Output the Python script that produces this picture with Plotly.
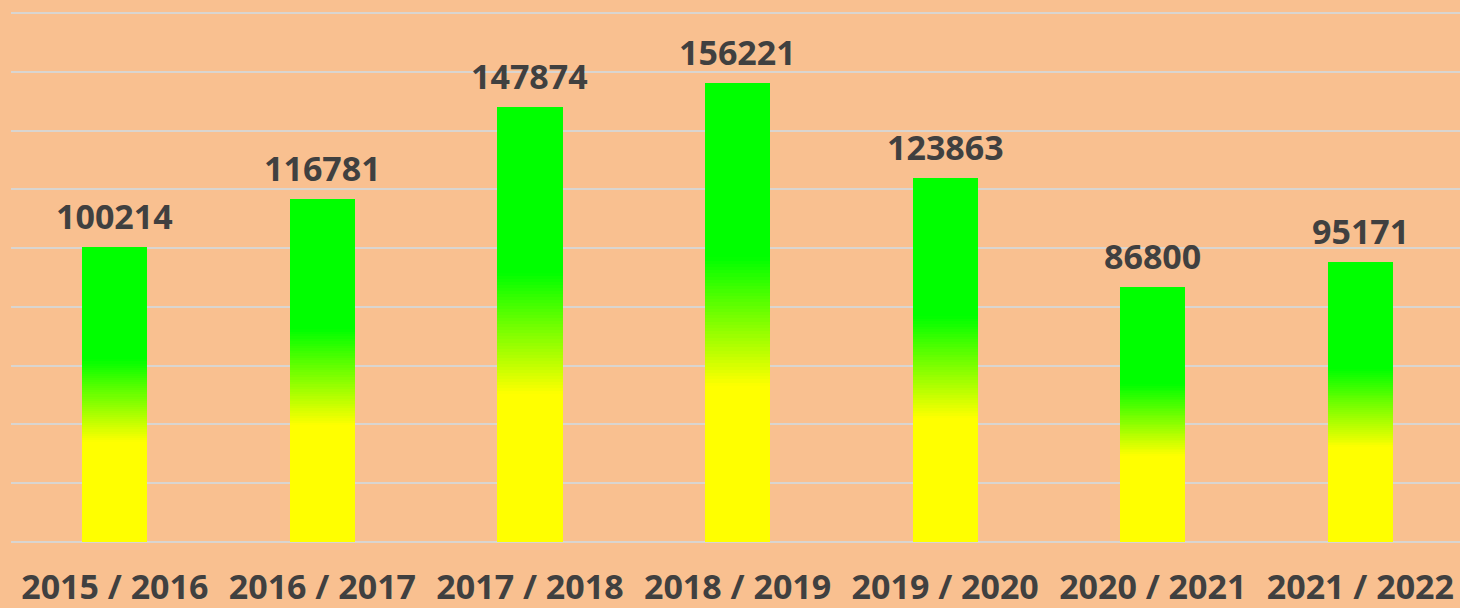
import plotly.graph_objects as go

categories = ["2015 / 2016", "2016 / 2017", "2017 / 2018", "2018 / 2019",
              "2019 / 2020", "2020 / 2021", "2021 / 2022"]
values = [100214, 116781, 147874, 156221, 123863, 86800, 95171]

# gradient (fraction of bar height): yellow up to 0.34, green from 0.62
Y0, Y1 = 0.34, 0.62
NSTEP = 40
bounds = [0.0, Y0] + [Y0 + (Y1 - Y0) * i / NSTEP for i in range(1, NSTEP + 1)] + [1.0]


def color_at(f):
    if f <= Y0:
        t = 0.0
    elif f >= Y1:
        t = 1.0
    else:
        t = (f - Y0) / (Y1 - Y0)
    r = round(255 * (1 - t))
    return f"rgb({r},255,0)"


fig = go.Figure()
for a, b in zip(bounds[:-1], bounds[1:]):
    fig.add_trace(go.Bar(
        x=categories,
        y=[v * (b - a) for v in values],
        marker=dict(color=color_at((a + b) / 2), line=dict(width=0)),
        hoverinfo="skip",
        showlegend=False,
    ))

for c, v in zip(categories, values):
    fig.add_annotation(x=c, y=v, text=str(v), showarrow=False,
                       yanchor="bottom", yshift=6,
                       font=dict(family="Open Sans", size=34, color="#404040", weight="bold"))

fig.update_layout(
    width=1460, height=608,
    barmode="stack", bargap=0.686,
    paper_bgcolor="#F9C090", plot_bgcolor="#F9C090",
    margin=dict(l=11, r=0, t=11, b=66),
    xaxis=dict(range=[-0.5, 6.48], showgrid=False, showline=False, ticks="",
               ticklabelstandoff=22, automargin=False,
               tickfont=dict(family="Open Sans", size=34, color="#404040", weight="bold")),
    yaxis=dict(range=[0, 180680], dtick=20000, showticklabels=False, automargin=False,
               showgrid=True, gridcolor="#D9D5D0", gridwidth=1.5,
               zeroline=True, zerolinecolor="#D9D5D0", zerolinewidth=1.5),
)

fig.write_html("out.html")
